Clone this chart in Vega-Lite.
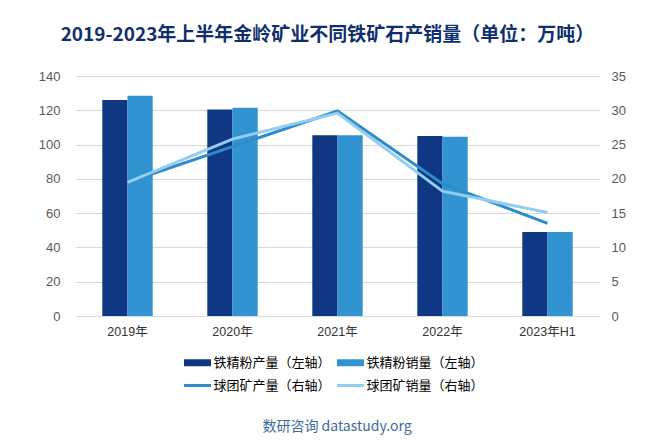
{
  "$schema": "https://vega.github.io/schema/vega-lite/v6.json",
  "width": 525,
  "height": 240,
  "autosize": {"type": "none"},
  "padding": {"left": 75, "top": 76, "right": 65, "bottom": 124},
  "background": "white",
  "title": {
    "text": "2019-2023年上半年金岭矿业不同铁矿石产销量（单位：万吨）",
    "font": "Noto Sans CJK SC",
    "fontSize": 19,
    "fontWeight": "bold",
    "color": "#0F2F6E",
    "anchor": "middle",
    "offset": 25,
    "dx": -10
  },
  "data": {
    "values": [
      {"year": "2019年", "series": "铁精粉产量（左轴）", "kind": "bar", "value": 126},
      {"year": "2019年", "series": "铁精粉销量（左轴）", "kind": "bar", "value": 128.5},
      {"year": "2020年", "series": "铁精粉产量（左轴）", "kind": "bar", "value": 120.5},
      {"year": "2020年", "series": "铁精粉销量（左轴）", "kind": "bar", "value": 121.5},
      {"year": "2021年", "series": "铁精粉产量（左轴）", "kind": "bar", "value": 105.5},
      {"year": "2021年", "series": "铁精粉销量（左轴）", "kind": "bar", "value": 105.5},
      {"year": "2022年", "series": "铁精粉产量（左轴）", "kind": "bar", "value": 105},
      {"year": "2022年", "series": "铁精粉销量（左轴）", "kind": "bar", "value": 104.5},
      {"year": "2023年H1", "series": "铁精粉产量（左轴）", "kind": "bar", "value": 49},
      {"year": "2023年H1", "series": "铁精粉销量（左轴）", "kind": "bar", "value": 49},
      {"year": "2019年", "series": "球团矿产量（右轴）", "kind": "line", "value": 19.5},
      {"year": "2020年", "series": "球团矿产量（右轴）", "kind": "line", "value": 24.7},
      {"year": "2021年", "series": "球团矿产量（右轴）", "kind": "line", "value": 29.9},
      {"year": "2022年", "series": "球团矿产量（右轴）", "kind": "line", "value": 19.3},
      {"year": "2023年H1", "series": "球团矿产量（右轴）", "kind": "line", "value": 13.5},
      {"year": "2019年", "series": "球团矿销量（右轴）", "kind": "line", "value": 19.5},
      {"year": "2020年", "series": "球团矿销量（右轴）", "kind": "line", "value": 25.8},
      {"year": "2021年", "series": "球团矿销量（右轴）", "kind": "line", "value": 29.6},
      {"year": "2022年", "series": "球团矿销量（右轴）", "kind": "line", "value": 18.2},
      {"year": "2023年H1", "series": "球团矿销量（右轴）", "kind": "line", "value": 15.1}
    ]
  },
  "encoding": {
    "x": {
      "field": "year",
      "type": "nominal",
      "sort": null,
      "scale": {"paddingInner": 0.52, "paddingOuter": 0.26},
      "axis": {
        "title": null,
        "labelAngle": 0,
        "ticks": false,
        "domain": false,
        "labelFont": "Liberation Sans, Noto Sans CJK SC",
        "labelFontSize": 12.5,
        "labelColor": "#333333",
        "labelPadding": 9
      }
    }
  },
  "layer": [
    {
      "transform": [{"filter": "datum.kind === 'bar'"}],
      "mark": {"type": "bar"},
      "encoding": {
        "xOffset": {
          "field": "series",
          "type": "nominal",
          "sort": ["铁精粉产量（左轴）", "铁精粉销量（左轴）"],
          "scale": {"paddingInner": 0, "paddingOuter": 0}
        },
        "y": {
          "field": "value",
          "type": "quantitative",
          "scale": {"domain": [0, 140]},
          "axis": {
            "title": null,
            "values": [0, 20, 40, 60, 80, 100, 120, 140],
            "ticks": false,
            "domain": false,
            "grid": true,
            "gridColor": "#D9D9D9",
            "labelFont": "Liberation Sans",
            "labelFontSize": 13,
            "labelColor": "#595959",
            "labelPadding": 15
          }
        },
        "color": {
          "field": "series",
          "type": "nominal",
          "scale": {
            "domain": ["铁精粉产量（左轴）", "铁精粉销量（左轴）", "球团矿产量（右轴）", "球团矿销量（右轴）"],
            "range": ["#0F3784", "#3193D0", "#2F8CCB", "#93CDF0"]
          },
          "legend": {
            "orient": "none",
            "direction": "horizontal",
            "legendX": 116,
            "legendY": 280,
            "columns": 2,
            "title": "数研咨询 datastudy.org",
            "titleOrient": "bottom",
            "titleAnchor": "middle",
            "titlePadding": 27,
            "titleFont": "Noto Sans CJK SC",
            "titleFontSize": 14,
            "titleFontWeight": "normal",
            "titleColor": "#3F6A9C",
            "labelFont": "Noto Sans CJK SC",
            "labelFontSize": 13,
            "labelColor": "#000000",
            "labelLimit": 300,
            "labelOffset": 9.5,
            "symbolSize": 144,
            "symbolType": "M-2.25,-0.58H2.25V0.58H-2.25Z",
            "rowPadding": 9,
            "columnPadding": 6,
            "encode": {
              "symbols": {
                "update": {
                  "shape": {"signal": "indexof(datum.value, '球团') === 0 ? 'M-2.25,-0.25H2.25V0.25H-2.25Z' : 'M-2.25,-0.58H2.25V0.58H-2.25Z'"},
                  "fill": {"scale": "color", "field": "value"},
                  "strokeWidth": {"value": 0},
                  "opacity": {"value": 1}
                }
              }
            }
          }
        }
      }
    },
    {
      "transform": [{"filter": "datum.kind === 'line'"}],
      "mark": {"type": "line", "strokeWidth": 3},
      "encoding": {
        "y": {
          "field": "value",
          "type": "quantitative",
          "scale": {"domain": [0, 35]},
          "axis": {
            "orient": "right",
            "title": null,
            "values": [0, 5, 10, 15, 20, 25, 30, 35],
            "ticks": false,
            "domain": false,
            "grid": false,
            "labelFont": "Liberation Sans",
            "labelFontSize": 13,
            "labelColor": "#595959",
            "labelPadding": 11
          }
        },
        "color": {
          "field": "series",
          "type": "nominal",
          "sort": ["球团矿产量（右轴）", "球团矿销量（右轴）"]
        }
      }
    }
  ],
  "resolve": {"scale": {"y": "independent"}},
  "config": {
    "view": {"stroke": null}
  }
}
